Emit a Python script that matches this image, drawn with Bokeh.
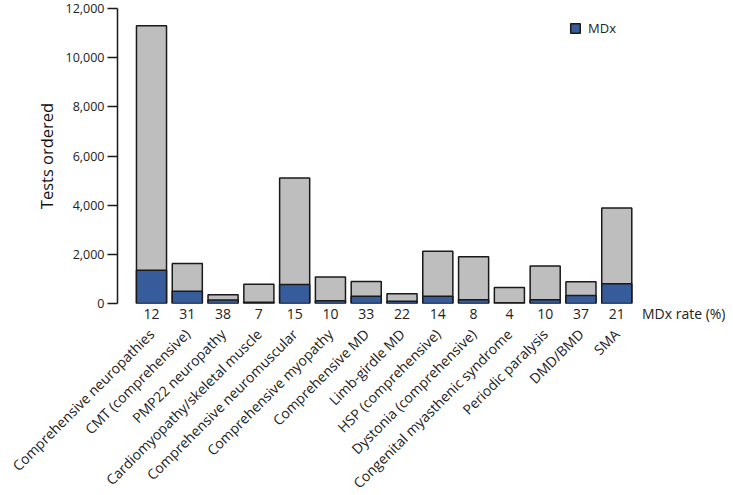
from bokeh.plotting import figure
from bokeh.models import (Range1d, LinearAxis, FixedTicker, NumeralTickFormatter,
                          ColumnDataSource, Legend)
from bokeh.embed import file_html
from bokeh.resources import INLINE
import math

categories = ["Comprehensive neuropathies", "CMT (comprehensive)", "PMP22 neuropathy",
              "Cardiomyopathy/skeletal muscle", "Comprehensive neuromuscular",
              "Comprehensive myopathy", "Comprehensive MD", "Limb-girdle MD",
              "HSP (comprehensive)", "Dystonia (comprehensive)",
              "Congenital myasthenic syndrome", "Periodic paralysis", "DMD/BMD", "SMA"]
tests_ordered = [11300, 1630, 360, 780, 5110, 1080, 890, 400, 2130, 1900, 650, 1530, 880, 3880]
mdx_tests = [1350, 500, 140, 55, 770, 108, 295, 90, 300, 152, 26, 153, 325, 800]
mdx_rate = [12, 31, 38, 7, 15, 10, 33, 22, 14, 8, 4, 10, 37, 21]
rate_axis_title = "MDx rate (%)"
y_ticks = [0, 2000, 4000, 6000, 8000, 10000, 12000]

FONT = "Open Sans"
GREY = "#BEBEBE"
BLUE = "#365C9C"
EDGE = "#1a1a1a"
TXT = "#222222"

xs = list(range(1, len(categories) + 1))
src = ColumnDataSource(dict(x=xs, total=tests_ordered, mdx=mdx_tests))

p = figure(frame_width=583, frame_height=295, output_backend="svg", toolbar_location=None,
           x_range=Range1d(0.05, 16.34), y_range=Range1d(0, 12000),
           x_axis_location=None, y_axis_location=None,
           min_border_left=117, min_border_top=8, min_border_right=25, min_border_bottom=0)
p.outline_line_color = None
p.grid.visible = False
p.background_fill_color = "white"

p.vbar(x="x", top="total", bottom=0, width=0.84, source=src,
       fill_color=GREY, line_color=EDGE, line_width=1.5)
r_mdx = p.vbar(x="x", top="mdx", bottom=0, width=0.84, source=src,
               fill_color=BLUE, line_color=EDGE, line_width=1.5)

# y axis
yax = LinearAxis(ticker=FixedTicker(ticks=y_ticks),
                 formatter=NumeralTickFormatter(format="0,0"),
                 axis_label="Tests ordered")
yax.axis_line_width = 1.5
yax.axis_line_color = EDGE
yax.major_tick_line_width = 1.5
yax.major_tick_line_color = EDGE
yax.major_tick_out = 10
yax.major_tick_in = 0
yax.minor_tick_line_color = None
yax.major_label_standoff = 3
yax.major_label_text_font = FONT
yax.major_label_text_font_size = "12.5px"
yax.major_label_text_color = TXT
yax.axis_label_text_font = FONT
yax.axis_label_text_font_size = "16.5px"
yax.axis_label_text_font_style = "normal"
yax.axis_label_text_color = "#111111"
yax.axis_label_standoff = 5
p.add_layout(yax, "left")

# MDx rate row (rates under each bar, and its title as an extra tick at the right)
rate_pos = 15.96
rate_ax = LinearAxis(ticker=FixedTicker(ticks=xs + [rate_pos]))
overrides = {x: str(r) for x, r in zip(xs, mdx_rate)}
overrides[rate_pos] = rate_axis_title
rate_ax.major_label_overrides = overrides
rate_ax.axis_line_color = None
rate_ax.major_tick_line_color = None
rate_ax.minor_tick_line_color = None
rate_ax.major_tick_out = 0
rate_ax.major_tick_in = 0
rate_ax.major_label_standoff = 0
rate_ax.major_label_text_font = FONT
rate_ax.major_label_text_font_size = "14px"
rate_ax.major_label_text_color = TXT
p.add_layout(rate_ax, "below")

# rotated category names
cat_ax = LinearAxis(ticker=FixedTicker(ticks=xs))
cat_ax.major_label_overrides = {x: c for x, c in zip(xs, categories)}
cat_ax.major_label_orientation = math.pi / 4
cat_ax.axis_line_color = None
cat_ax.major_tick_line_color = None
cat_ax.minor_tick_line_color = None
cat_ax.major_tick_out = 0
cat_ax.major_tick_in = 0
cat_ax.major_label_standoff = 6
cat_ax.major_label_text_font = FONT
cat_ax.major_label_text_font_size = "14px"
cat_ax.major_label_text_color = TXT
p.add_layout(cat_ax, "below")

legend = Legend(items=[("MDx", [r_mdx])], location=(452, 266))
legend.border_line_color = None
legend.background_fill_alpha = 0
legend.padding = 0
legend.margin = 0
legend.glyph_width = 12
legend.glyph_height = 12
legend.label_text_font = FONT
legend.label_text_font_size = "13px"
legend.label_text_color = TXT
legend.label_standoff = 7
p.add_layout(legend, "center")

open("out.html", "w").write(file_html(p, INLINE))
